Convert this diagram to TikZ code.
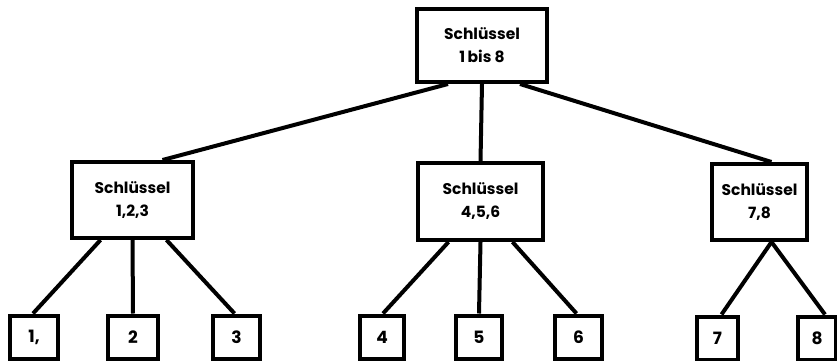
\documentclass[tikz,border=0pt]{standalone}
\usepackage{fontspec}
\setmainfont{Poppins}[BoldFont={Poppins Bold}]
\begin{document}
\begin{tikzpicture}[x=1pt,y=-1pt,
  box/.style={draw=black,line width=4pt,fill=white,align=center,inner sep=0pt,
    font=\fontsize{15.5}{23}\selectfont\bfseries},
  leaf/.style={draw=black,line width=4pt,fill=white,inner sep=0pt,minimum height=43pt,
    font=\fontsize{17}{18}\selectfont\bfseries},
  conn/.style={line width=4pt,black}]
\useasboundingbox (0,0) rectangle (837,361);
\node[box,minimum width=130pt,minimum height=73pt] (top) at (482,45.5) {Schlüssel\\1\,bis 8};
\node[box,minimum width=121pt,minimum height=76pt] (m1) at (132.5,200) {Schlüssel\\1,2,3};
\node[box,minimum width=125pt,minimum height=77pt] (m2) at (480.5,201.5) {Schlüssel\\4,5,6};
\node[box,minimum width=95pt,minimum height=76pt] (m3) at (759.5,202) {Schlüssel\\7,8};
\node[leaf,minimum width=48pt] (l1) at (34,337) {1,};
\node[leaf,minimum width=50pt] (l2) at (133,337) {2};
\node[leaf,minimum width=47pt] (l3) at (236.5,337) {3};
\node[leaf,minimum width=44pt] (l4) at (382,337) {4};
\node[leaf,minimum width=46pt] (l5) at (479,337) {5};
\node[leaf,minimum width=47pt] (l6) at (578.5,337) {6};
\node[leaf,minimum width=41pt] (l7) at (717.5,338) {7};
\node[leaf,minimum width=38pt] (l8) at (817,338) {8};
\draw[conn] ([xshift=-34pt]top.south) -- ([xshift=30pt]m1.north);
\draw[conn] (top.south) -- (m2.north);
\draw[conn] ([xshift=38pt]top.south) -- ([xshift=12pt]m3.north);
\draw[conn] ([xshift=-32pt]m1.south) -- ([xshift=-1pt]l1.north);
\draw[conn] (m1.south) -- (l2.north);
\draw[conn] ([xshift=34pt]m1.south) -- ([xshift=-2pt]l3.north);
\draw[conn] ([xshift=-32pt]m2.south) -- ([xshift=1pt]l4.north);
\draw[conn] (m2.south) -- (l5.north);
\draw[conn] ([xshift=32pt]m2.south) -- ([xshift=-2pt]l6.north);
\draw[conn] ([xshift=12pt]m3.south) -- ([xshift=4pt]l7.north);
\draw[conn] ([xshift=12pt]m3.south) -- ([xshift=8pt]l8.north);
\end{tikzpicture}
\end{document}
